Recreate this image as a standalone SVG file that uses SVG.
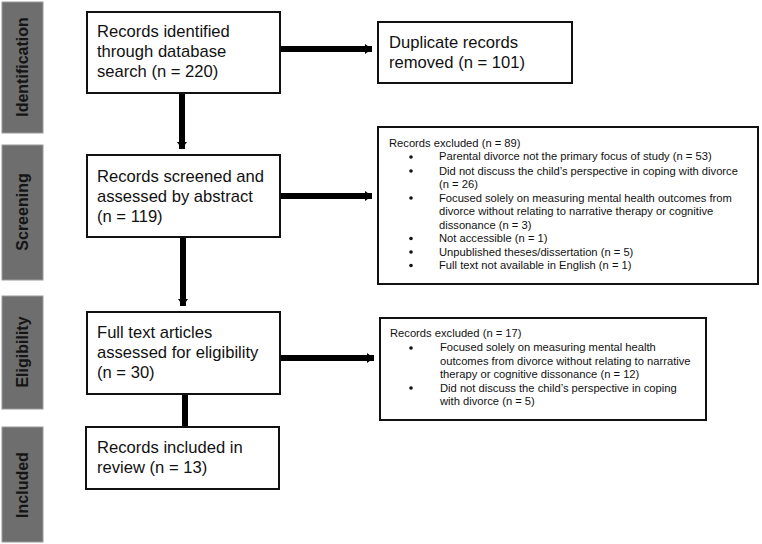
<svg xmlns="http://www.w3.org/2000/svg" width="762" height="544" viewBox="0 0 762 544">
<style>
.bar{fill:#6e6e6e;stroke:#9a9a9a;stroke-width:1}
.lab{font-family:"Liberation Sans",Arial,sans-serif;font-size:16px;font-weight:bold;fill:#151515;text-anchor:middle}
.box{fill:#fff;stroke:#111;stroke-width:2}
.t{font-family:"Liberation Sans",Arial,sans-serif;font-size:16.6px;fill:#111}
.s{font-family:"Liberation Sans",Arial,sans-serif;font-size:11.2px;fill:#111}
.c{stroke:#000;stroke-width:6;fill:none}
</style>
<defs>
<marker id="ah" markerUnits="userSpaceOnUse" markerWidth="8" markerHeight="12" refX="7" refY="6" orient="auto">
<path d="M0,1 L7,6 L0,11 Z" fill="#000"/>
</marker>
</defs>
<rect width="762" height="544" fill="#fff"/>
<g id="phase-identification"><rect class="bar" x="2" y="2" width="41" height="131"/><text class="lab" transform="translate(28,67) rotate(-90)">Identification</text></g>
<g id="phase-screening"><rect class="bar" x="2" y="145" width="41" height="135"/><text class="lab" transform="translate(28,212) rotate(-90)">Screening</text></g>
<g id="phase-eligibility"><rect class="bar" x="2" y="296" width="41" height="113"/><text class="lab" transform="translate(28,352) rotate(-90)">Eligibility</text></g>
<g id="phase-included"><rect class="bar" x="2" y="427" width="41" height="115"/><text class="lab" transform="translate(28,485) rotate(-90)">Included</text></g>
<g id="connectors">
<line class="c" x1="280" y1="49" x2="372" y2="49" marker-end="url(#ah)"/>
<line class="c" x1="280" y1="196" x2="372" y2="196" marker-end="url(#ah)"/>
<line class="c" x1="280" y1="358" x2="374" y2="358" marker-end="url(#ah)"/>
<line class="c" x1="182" y1="93" x2="182" y2="149" marker-end="url(#ah)"/>
<line class="c" x1="183" y1="237" x2="183" y2="306" marker-end="url(#ah)"/>
<line class="c" x1="185" y1="394" x2="185" y2="427"/>
</g>
<g id="identified"><rect class="box" x="87" y="12" width="193" height="81"/>
<text class="t" x="97" y="37">Records identified</text>
<text class="t" x="97" y="57">through database</text>
<text class="t" x="97" y="77">search (n = 220)</text></g>
<g id="duplicates"><rect class="box" x="378" y="22" width="194" height="61"/>
<text class="t" x="389" y="48">Duplicate records</text>
<text class="t" x="389" y="68">removed (n = 101)</text></g>
<g id="screened"><rect class="box" x="87" y="155" width="193" height="82"/>
<text class="t" x="97" y="182">Records screened and</text>
<text class="t" x="97" y="202">assessed by abstract</text>
<text class="t" x="97" y="222">(n = 119)</text></g>
<g id="excluded-screening"><rect class="box" x="378" y="127" width="380" height="157"/>
<text class="s" x="389" y="147">Records excluded (n = 89)</text>
<circle cx="411" cy="157" r="1.8" fill="#111"/><text class="s" x="439" y="160">Parental divorce not the primary focus of study (n = 53)</text>
<circle cx="411" cy="171" r="1.8" fill="#111"/><text class="s" x="439" y="174.5">Did not discuss the child’s perspective in coping with divorce</text>
<text class="s" x="439" y="188">(n = 26)</text>
<circle cx="411" cy="198" r="1.8" fill="#111"/><text class="s" x="439" y="201.5">Focused solely on measuring mental health outcomes from</text>
<text class="s" x="439" y="215">divorce without relating to narrative therapy or cognitive</text>
<text class="s" x="439" y="228.5">dissonance (n = 3)</text>
<circle cx="411" cy="238.5" r="1.8" fill="#111"/><text class="s" x="439" y="242">Not accessible (n = 1)</text>
<circle cx="411" cy="252" r="1.8" fill="#111"/><text class="s" x="439" y="255.5">Unpublished theses/dissertation (n = 5)</text>
<circle cx="411" cy="265.5" r="1.8" fill="#111"/><text class="s" x="439" y="269">Full text not available in English (n = 1)</text>
</g>
<g id="fulltext"><rect class="box" x="87" y="312" width="193" height="82"/>
<text class="t" x="97" y="338">Full text articles</text>
<text class="t" x="97" y="358">assessed for eligibility</text>
<text class="t" x="97" y="378">(n = 30)</text></g>
<g id="excluded-eligibility"><rect class="box" x="380" y="318" width="326" height="102"/>
<text class="s" x="390" y="337">Records excluded (n = 17)</text>
<circle cx="411" cy="348" r="1.8" fill="#111"/><text class="s" x="440" y="351">Focused solely on measuring mental health</text>
<text class="s" x="440" y="364.5">outcomes from divorce without relating to narrative</text>
<text class="s" x="440" y="378">therapy or cognitive dissonance (n = 12)</text>
<circle cx="411" cy="388" r="1.8" fill="#111"/><text class="s" x="440" y="391.5">Did not discuss the child’s perspective in coping</text>
<text class="s" x="440" y="405">with divorce (n = 5)</text></g>
<g id="included"><rect class="box" x="86" y="427" width="193" height="62"/>
<text class="t" x="97" y="453">Records included in</text>
<text class="t" x="97" y="473">review (n = 13)</text></g>
</svg>
